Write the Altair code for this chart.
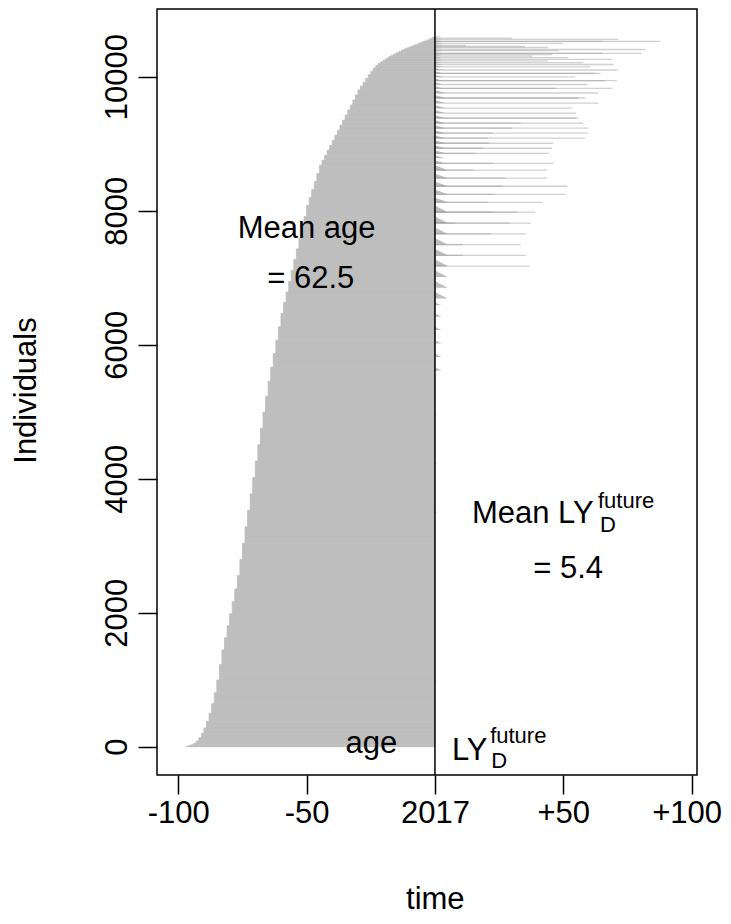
import altair as alt
import pandas as pd

FONT = "Liberation Sans"

# ---- age distribution: number of individuals per year of age (age 0 .. 97)
ages = list(range(98))
counts = ([18, 18, 18, 15, 15, 15, 15, 15, 15, 15, 15, 15, 15,
           20, 20, 20, 20, 20, 25, 25, 25, 25, 30, 40, 50, 50,
           55, 57, 58, 58]
          + [75] * 15
          + [120] * 5
          + [165, 162, 160, 160, 160, 162, 162, 160, 158, 160]
          + [200, 200, 200, 205, 210]
          + [225, 235, 240, 245, 245, 245, 245, 245, 245, 245, 245, 238]
          + [200, 190, 180, 180, 180, 180, 220, 230, 190, 165, 140,
             120, 100, 80, 65, 50, 35, 20, 15, 10, 5])

# ---- future life years (LY_D future): long lines, per age band
long_age = [2, 4, 4, 10, 12, 15, 15, 16, 19, 21, 22, 23, 24, 25, 25, 26, 27, 27,
            28, 29, 29, 30, 31, 31, 32, 33, 34, 35, 35, 36, 36, 37, 37, 38, 38,
            39, 39, 40, 40, 41, 41, 42, 42, 44, 44, 45, 45, 46, 46, 47, 47, 48,
            48, 49, 49, 50, 50, 50, 51, 51, 51, 52, 52, 53, 53, 54, 54, 55, 55,
            1, 6, 8, 9, 13, 17, 18, 20]
long_ly = [71.4, 87.8, 65.5, 44.0, 82.0, 80.6, 65.5, 45.7, 69.0, 57.8, 69.6,
           60.5, 71.0, 64.5, 62.5, 54.7, 71.0, 66.3, 59.5, 69.0, 47.0, 63.6,
           58.5, 55.9, 63.6, 53.4, 55.0, 55.9, 55.0, 57.8, 33.4, 59.7, 30.0,
           59.7, 22.6, 58.5, 20.6, 46.0, 21.0, 45.7, 18.7, 44.3, 16.0, 46.2,
           22.6, 43.7, 14.8, 43.7, 27.5, 51.6, 26.4, 50.9, 23.2, 41.8, 20.6,
           39.2, 32.3, 22.6, 37.3, 29.2, 7.7, 35.4, 21.8, 33.4, 10.9, 35.4,
           10.9, 36.8, 4.3,
           30.0, 50.0, 12.0, 35.0, 48.0, 38.0, 52.0, 44.0]

# ---- short near-zero LY values: wedge per age band
wedge_age = list(range(65)) + [67, 70, 73, 85, 91, 94]
wedge_w = [3.0] * 30 + [4.0] * 15 + [5.0] * 14 + [2.5] * 6 + [0.6] * 6
wedge_frac = [0.6] * 59 + [0.25] * 6 + [0.15] * 6

# ---- annotations
txt_c_label = ["Mean age", "= 62.5", "= 5.4", "age"]
txt_c_x = [-50.0, -48.4, 51.9, -24.8]
txt_c_y = [7593, 6842, 2518, -98]
txt_l_label = ["Mean LY", "LY"]
txt_l_x = [14.4, 6.6]
txt_l_y = [3343, -198]
txt_s_label = ["future", "D", "future", "D"]
txt_s_x = [63.5, 64.3, 21.5, 21.9]
txt_s_y = [3563, 3209, 60, -322]

# ---- build tables
lo, hi = {}, {}
run = 0
for a in reversed(ages):
    lo[a] = run
    run += counts[a]
    hi[a] = run

left = pd.DataFrame({
    "age": ages,
    "xneg": [-a for a in ages],
    "x0": [0] * len(ages),
    "lo": [lo[a] for a in ages],
    "hi": [hi[a] for a in ages],
})

wrows = []
for a, w, f in zip(wedge_age, wedge_w, wedge_frac):
    c = counts[a]
    wrows.append({"band": a, "y": hi[a], "x": 0.0, "x0": 0.0})
    wrows.append({"band": a, "y": hi[a] - f * c, "x": w, "x0": 0.0})
wedges = pd.DataFrame(wrows)

frac_of = dict(zip(wedge_age, wedge_frac))
lines = pd.DataFrame({
    "band": long_age,
    "ly": long_ly,
    "x0": [0.0] * len(long_age),
    "y": [hi[a] - frac_of.get(a, 0.6) * counts[a] for a in long_age],
})

tc = pd.DataFrame({"label": txt_c_label, "x": txt_c_x, "y": txt_c_y})
tl = pd.DataFrame({"label": txt_l_label, "x": txt_l_x, "y": txt_l_y})
ts = pd.DataFrame({"label": txt_s_label, "x": txt_s_x, "y": txt_s_y})
vline = pd.DataFrame({"x": [0]})

xs = alt.Scale(domain=[-108.3, 102.1], nice=False, zero=False)
ys = alt.Scale(domain=[-422.4, 11010.4], nice=False, zero=False)

xaxis = alt.Axis(
    values=[-100, -50, 0, 50, 100],
    labelExpr="datum.value == 0 ? '2017' : (datum.value > 0 ? '+' + datum.value : '' + datum.value)",
    title="time", titleX=277.8, titleY=124, titleBaseline="middle", titleAlign="center",
    tickSize=19, labelPadding=4, labelBaseline="top",
    labelOffset={"condition": {"test": "datum.value == 100", "value": -5}, "value": 0},
)
yaxis = alt.Axis(
    values=[0, 2000, 4000, 6000, 8000, 10000], format="d",
    labelAngle=270, labelAlign="center", labelBaseline="bottom",
    title="Individuals", titleAngle=270, titleX=-131, titleY=381,
    titleAlign="center", titleBaseline="middle",
    tickSize=19, labelPadding=5,
)

gray = "#BEBEBE"

left_layer = alt.Chart(left).mark_rect(color=gray, stroke=gray, strokeWidth=0.8).encode(
    x=alt.X("xneg:Q", scale=xs, axis=xaxis),
    x2="x0:Q",
    y=alt.Y("lo:Q", scale=ys, axis=yaxis),
    y2="hi:Q",
)

wedge_layer = alt.Chart(wedges).mark_area(color=gray, orient="horizontal", opacity=1).encode(
    x=alt.X("x:Q", scale=xs, axis=xaxis, stack=None),
    x2="x0:Q",
    y=alt.Y("y:Q", scale=ys, axis=yaxis),
    detail="band:N",
)

line_layer = alt.Chart(lines).mark_rule(color="#9a9a9a", opacity=0.45, strokeWidth=1.3).encode(
    x=alt.X("x0:Q", scale=xs, axis=xaxis),
    x2="ly:Q",
    y=alt.Y("y:Q", scale=ys, axis=yaxis),
)

v_layer = alt.Chart(vline).mark_rule(color="black", strokeWidth=1.5).encode(
    x=alt.X("x:Q", scale=xs, axis=xaxis),
)

tc_layer = alt.Chart(tc).mark_text(font=FONT, fontSize=31, align="center", baseline="alphabetic", color="black").encode(
    x=alt.X("x:Q", scale=xs, axis=xaxis), y=alt.Y("y:Q", scale=ys, axis=yaxis), text="label:N")
tl_layer = alt.Chart(tl).mark_text(font=FONT, fontSize=31, align="left", baseline="alphabetic", color="black").encode(
    x=alt.X("x:Q", scale=xs, axis=xaxis), y=alt.Y("y:Q", scale=ys, axis=yaxis), text="label:N")
ts_layer = alt.Chart(ts).mark_text(font=FONT, fontSize=22, align="left", baseline="alphabetic", color="black").encode(
    x=alt.X("x:Q", scale=xs, axis=xaxis), y=alt.Y("y:Q", scale=ys, axis=yaxis), text="label:N")

chart = alt.layer(left_layer, wedge_layer, line_layer, v_layer, tc_layer, tl_layer, ts_layer).properties(
    width=540, height=766,
    autosize=alt.AutoSizeParams(type="none"),
    padding={"left": 149, "top": 1, "right": 26, "bottom": 141},
).configure_view(
    stroke="black", strokeWidth=1.5
).configure_axis(
    domain=False, grid=False, ticks=True, tickColor="black", tickWidth=1.5,
    labelFont=FONT, labelFontSize=31, labelColor="black",
    titleFont=FONT, titleFontSize=31, titleFontWeight="normal", titleColor="black",
)

chart.save("out.html", embed_options={"renderer": "svg", "actions": False})
